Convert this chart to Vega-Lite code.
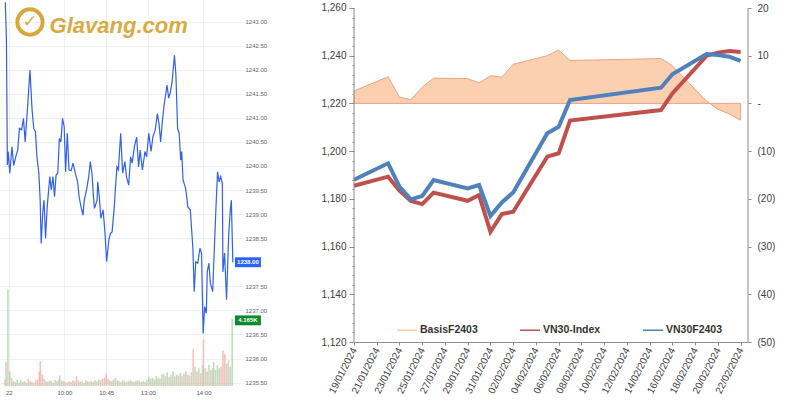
{
  "$schema": "https://vega.github.io/schema/vega-lite/v6.json",
  "background": "white",
  "padding": 0,
  "spacing": 53,
  "resolve": {"scale": {"color": "independent"}},
  "config": {"view": {"stroke": null}, "font": "Liberation Sans", "axis": {"labelOverlap": false, "tickCount": 100}},
  "datasets": {
    "price": [
      {"m":11.2,"p":1243.40},{"m":12.4,"p":1242.62},{"m":13.4,"p":1240.02},{"m":14.3,"p":1240.30},{"m":16.0,"p":1239.85},{"m":18.4,"p":1240.40},{"m":20.2,"p":1240.01},{"m":23.0,"p":1240.23},{"m":24.6,"p":1240.33},{"m":26.4,"p":1240.78},{"m":28.8,"p":1240.75},{"m":30.8,"p":1240.99},{"m":32.6,"p":1240.50},{"m":35.0,"p":1241.16},{"m":37.8,"p":1241.99},{"m":40.1,"p":1241.16},{"m":41.9,"p":1240.78},{"m":43.7,"p":1240.71},{"m":45.3,"p":1240.19},{"m":47.4,"p":1239.85},{"m":48.8,"p":1239.29},{"m":49.9,"p":1238.39},{"m":51.5,"p":1239.02},{"m":53.0,"p":1239.29},{"m":54.6,"p":1238.50},{"m":56.4,"p":1239.15},{"m":59.2,"p":1239.78},{"m":60.8,"p":1239.50},{"m":62.6,"p":1239.78},{"m":64.3,"p":1239.36},{"m":66.0,"p":1239.81},{"m":67.8,"p":1239.85},{"m":69.5,"p":1240.57},{"m":71.2,"p":1240.50},{"m":72.9,"p":1240.99},{"m":74.7,"p":1240.82},{"m":76.3,"p":1239.88},{"m":78.1,"p":1240.68},{"m":79.9,"p":1239.92},{"m":82.2,"p":1239.90},{"m":84.3,"p":1240.06},{"m":86.7,"p":1239.85},{"m":89.2,"p":1239.67},{"m":90.8,"p":1239.36},{"m":92.9,"p":1239.15},{"m":95.0,"p":1238.98},{"m":96.4,"p":1239.29},{"m":98.8,"p":1239.50},{"m":101.2,"p":1239.78},{"m":102.9,"p":1240.09},{"m":104.7,"p":1239.85},{"m":106.3,"p":1239.36},{"m":107.4,"p":1239.12},{"m":110.2,"p":1239.29},{"m":110.9,"p":1239.67},{"m":112.6,"p":1239.36},{"m":114.3,"p":1238.91},{"m":116.7,"p":1239.09},{"m":118.8,"p":1238.60},{"m":120.5,"p":1238.01},{"m":122.9,"p":1238.46},{"m":124.7,"p":1238.60},{"m":126.4,"p":1238.63},{"m":128.8,"p":1239.15},{"m":129.8,"p":1239.47},{"m":131.6,"p":1239.98},{"m":133.2,"p":1239.92},{"m":135.7,"p":1240.68},{"m":137.8,"p":1239.85},{"m":140.2,"p":1240.09},{"m":141.9,"p":1239.78},{"m":144.3,"p":1239.60},{"m":146.4,"p":1240.19},{"m":148.1,"p":1240.06},{"m":150.5,"p":1240.40},{"m":152.9,"p":1240.60},{"m":155.0,"p":1239.98},{"m":156.7,"p":1240.33},{"m":159.1,"p":1239.92},{"m":161.9,"p":1240.30},{"m":163.7,"p":1240.19},{"m":166.0,"p":1240.68},{"m":168.4,"p":1240.30},{"m":170.5,"p":1240.61},{"m":173.0,"p":1240.75},{"m":175.3,"p":1241.09},{"m":177.1,"p":1240.87},{"m":178.8,"p":1240.50},{"m":180.5,"p":1240.89},{"m":182.3,"p":1241.23},{"m":183.3,"p":1241.37},{"m":185.7,"p":1241.68},{"m":187.4,"p":1241.41},{"m":189.1,"p":1241.51},{"m":191.2,"p":1241.75},{"m":193.7,"p":1242.30},{"m":195.3,"p":1241.89},{"m":197.1,"p":1240.78},{"m":198.8,"p":1240.68},{"m":200.5,"p":1240.12},{"m":201.5,"p":1240.30},{"m":203.0,"p":1239.71},{"m":205.7,"p":1239.54},{"m":207.4,"p":1239.29},{"m":208.1,"p":1239.15},{"m":210.8,"p":1239.09},{"m":213.6,"p":1238.29},{"m":215.0,"p":1237.39},{"m":216.7,"p":1238.01},{"m":218.8,"p":1237.98},{"m":221.2,"p":1238.29},{"m":222.9,"p":1238.19},{"m":224.7,"p":1236.52},{"m":226.3,"p":1237.08},{"m":228.1,"p":1236.94},{"m":229.1,"p":1237.80},{"m":230.9,"p":1237.98},{"m":232.5,"p":1237.56},{"m":235.0,"p":1237.39},{"m":236.0,"p":1237.91},{"m":237.4,"p":1238.60},{"m":238.4,"p":1239.09},{"m":240.2,"p":1239.88},{"m":241.9,"p":1239.67},{"m":243.6,"p":1239.78},{"m":245.4,"p":1239.64},{"m":246.0,"p":1237.80},{"m":247.8,"p":1238.19},{"m":249.9,"p":1237.22},{"m":252.3,"p":1238.60},{"m":254.0,"p":1239.09},{"m":255.1,"p":1239.29},{"m":256.7,"p":1238.00}
    ],
    "vol": [
      {"m":11,"v":400,"d":"d"},{"m":12,"v":1500,"d":"d"},{"m":14,"v":6000,"d":"u"},{"m":16,"v":900,"d":"u"},{"m":18,"v":500,"d":"d"},{"m":20,"v":300,"d":"u"},{"m":22,"v":250,"d":"d"},{"m":24,"v":400,"d":"u"},{"m":26,"v":200,"d":"d"},{"m":28,"v":350,"d":"u"},{"m":30,"v":250,"d":"u"},{"m":32,"v":300,"d":"d"},{"m":34,"v":200,"d":"u"},{"m":36,"v":450,"d":"d"},{"m":38,"v":300,"d":"d"},{"m":40,"v":250,"d":"u"},{"m":42,"v":200,"d":"u"},{"m":44,"v":350,"d":"d"},{"m":46,"v":400,"d":"d"},{"m":48,"v":900,"d":"d"},{"m":49,"v":1550,"d":"d"},{"m":51,"v":700,"d":"d"},{"m":53,"v":450,"d":"u"},{"m":55,"v":300,"d":"d"},{"m":57,"v":250,"d":"u"},{"m":59,"v":350,"d":"d"},{"m":61,"v":300,"d":"u"},{"m":63,"v":200,"d":"d"},{"m":65,"v":350,"d":"u"},{"m":67,"v":300,"d":"d"},{"m":69,"v":400,"d":"u"},{"m":70,"v":650,"d":"u"},{"m":72,"v":350,"d":"d"},{"m":74,"v":300,"d":"u"},{"m":76,"v":250,"d":"d"},{"m":78,"v":200,"d":"u"},{"m":80,"v":300,"d":"d"},{"m":82,"v":250,"d":"u"},{"m":84,"v":350,"d":"d"},{"m":86,"v":300,"d":"d"},{"m":88,"v":600,"d":"d"},{"m":90,"v":350,"d":"u"},{"m":92,"v":250,"d":"d"},{"m":94,"v":300,"d":"u"},{"m":96,"v":200,"d":"d"},{"m":98,"v":350,"d":"u"},{"m":100,"v":300,"d":"d"},{"m":102,"v":250,"d":"u"},{"m":104,"v":300,"d":"d"},{"m":106,"v":250,"d":"u"},{"m":108,"v":350,"d":"d"},{"m":110,"v":300,"d":"u"},{"m":112,"v":400,"d":"d"},{"m":114,"v":350,"d":"d"},{"m":116,"v":450,"d":"u"},{"m":118,"v":500,"d":"d"},{"m":120,"v":800,"d":"d"},{"m":122,"v":450,"d":"d"},{"m":124,"v":350,"d":"u"},{"m":126,"v":300,"d":"u"},{"m":128,"v":400,"d":"d"},{"m":130,"v":500,"d":"u"},{"m":132,"v":350,"d":"u"},{"m":134,"v":300,"d":"d"},{"m":136,"v":250,"d":"u"},{"m":138,"v":350,"d":"u"},{"m":140,"v":300,"d":"d"},{"m":142,"v":250,"d":"u"},{"m":144,"v":300,"d":"d"},{"m":146,"v":350,"d":"u"},{"m":148,"v":300,"d":"u"},{"m":150,"v":250,"d":"d"},{"m":152,"v":300,"d":"u"},{"m":154,"v":350,"d":"d"},{"m":156,"v":300,"d":"u"},{"m":158,"v":250,"d":"d"},{"m":160,"v":300,"d":"u"},{"m":162,"v":250,"d":"d"},{"m":164,"v":400,"d":"u"},{"m":166,"v":550,"d":"u"},{"m":168,"v":450,"d":"d"},{"m":170,"v":500,"d":"u"},{"m":172,"v":400,"d":"d"},{"m":174,"v":600,"d":"u"},{"m":176,"v":500,"d":"u"},{"m":178,"v":450,"d":"d"},{"m":180,"v":700,"d":"u"},{"m":182,"v":750,"d":"u"},{"m":184,"v":600,"d":"d"},{"m":186,"v":850,"d":"u"},{"m":188,"v":550,"d":"u"},{"m":190,"v":700,"d":"d"},{"m":192,"v":900,"d":"u"},{"m":194,"v":600,"d":"u"},{"m":196,"v":700,"d":"d"},{"m":198,"v":650,"d":"u"},{"m":200,"v":800,"d":"u"},{"m":202,"v":600,"d":"d"},{"m":204,"v":750,"d":"u"},{"m":206,"v":900,"d":"d"},{"m":208,"v":700,"d":"u"},{"m":210,"v":650,"d":"d"},{"m":212,"v":850,"d":"u"},{"m":214,"v":2300,"d":"d"},{"m":216,"v":1200,"d":"u"},{"m":218,"v":900,"d":"d"},{"m":220,"v":1100,"d":"u"},{"m":222,"v":800,"d":"d"},{"m":224,"v":1300,"d":"u"},{"m":225,"v":2900,"d":"d"},{"m":227,"v":1100,"d":"u"},{"m":229,"v":900,"d":"d"},{"m":231,"v":1300,"d":"u"},{"m":233,"v":1000,"d":"d"},{"m":235,"v":1100,"d":"u"},{"m":236,"v":1500,"d":"u"},{"m":238,"v":1000,"d":"d"},{"m":240,"v":1300,"d":"u"},{"m":242,"v":1100,"d":"u"},{"m":244,"v":1200,"d":"d"},{"m":246,"v":2200,"d":"d"},{"m":248,"v":2000,"d":"d"},{"m":250,"v":1400,"d":"u"},{"m":252,"v":1600,"d":"d"},{"m":254,"v":1200,"d":"u"},{"m":256,"v":4165,"d":"u"}
    ],
    "last": [{"p": 1238.00, "v": 4082, "pl": "1238.00", "vl": "4.165K"}],
    "logo": [{"name": "Glavang.com", "icon": "✓"}],
    "axisline": [{"side": "axis"}],
    "basis": [
      {"date":"2024-01-19","vn30":1185.5,"f2403":1188.0,"basis":2.6},
      {"date":"2024-01-22","vn30":1189.3,"f2403":1194.9,"basis":5.6},
      {"date":"2024-01-23","vn30":1183.4,"f2403":1185.1,"basis":1.3},
      {"date":"2024-01-24","vn30":1179.1,"f2403":1179.8,"basis":0.8},
      {"date":"2024-01-25","vn30":1177.8,"f2403":1181.2,"basis":3.4},
      {"date":"2024-01-26","vn30":1182.6,"f2403":1187.9,"basis":5.3},
      {"date":"2024-01-29","vn30":1179.2,"f2403":1184.4,"basis":5.2},
      {"date":"2024-01-30","vn30":1181.6,"f2403":1185.8,"basis":4.3},
      {"date":"2024-01-31","vn30":1166.2,"f2403":1172.8,"basis":5.8},
      {"date":"2024-02-01","vn30":1173.6,"f2403":1178.5,"basis":5.5},
      {"date":"2024-02-02","vn30":1174.6,"f2403":1182.7,"basis":8.2},
      {"date":"2024-02-05","vn30":1197.7,"f2403":1207.5,"basis":10.0},
      {"date":"2024-02-06","vn30":1199.1,"f2403":1210.2,"basis":11.2},
      {"date":"2024-02-07","vn30":1212.8,"f2403":1221.4,"basis":9.0},
      {"date":"2024-02-15","vn30":1217.2,"f2403":1226.6,"basis":9.4},
      {"date":"2024-02-16","vn30":1224.2,"f2403":1232.2,"basis":7.9},
      {"date":"2024-02-19","vn30":1239.9,"f2403":1240.7,"basis":0.5},
      {"date":"2024-02-20","vn30":1241.3,"f2403":1240.3,"basis":-1.2},
      {"date":"2024-02-21","vn30":1242.0,"f2403":1239.6,"basis":-2.2},
      {"date":"2024-02-22","vn30":1241.6,"f2403":1237.8,"basis":-3.5}
    ]
  },
  "hconcat": [
    {
      "width": 242,
      "height": 386,
      "layer": [
        {
          "layer": [
            {
              "data": {"name": "price"},
              "mark": {"type": "line", "color": "#3060EC", "strokeWidth": 1.2, "clip": true},
              "encoding": {
                "x": {"field": "m", "type": "quantitative",
                  "scale": {"domain": [10.86, 261.2], "nice": false, "zero": false},
                  "axis": {"values": [15, 75, 120, 165, 225], "tickCount": 100,
                    "labelExpr": "datum.value == 15 ? '22' : datum.value == 75 ? '10:00' : datum.value == 120 ? '10:45' : datum.value == 165 ? '13:00' : '14:00'",
                    "domain": false, "ticks": false, "grid": true, "gridColor": "#eef0f5",
                    "labelFontSize": 6, "labelColor": "#555555", "labelPadding": 3, "labelOverlap": false, "title": null}},
                "y": {"field": "p", "type": "quantitative",
                  "scale": {"domain": [1235.43, 1243.447], "nice": false, "zero": false},
                  "axis": {"orient": "right", "tickCount": 100,
                    "values": [1235.5,1236,1236.5,1237,1237.5,1238.5,1239,1239.5,1240,1240.5,1241,1241.5,1242,1242.5,1243],
                    "format": ".2f", "domain": false, "ticks": false, "grid": true, "gridColor": "#eef0f5",
                    "labelFontSize": 6, "labelColor": "#666666", "labelPadding": 3, "labelOverlap": false, "title": null}}
              }
            },
            {
              "data": {"name": "last"},
              "mark": {"type": "point", "shape": "M-1,-0.38H1V0.38H-1Z", "size": 676, "filled": true, "color": "#2962FF", "opacity": 1},
              "encoding": {"x": {"datum": 273}, "y": {"field": "p", "type": "quantitative"}}
            },
            {
              "data": {"name": "last"},
              "mark": {"type": "text", "color": "white", "fontSize": 6, "fontWeight": "bold", "align": "center", "baseline": "middle"},
              "encoding": {"x": {"datum": 273}, "y": {"field": "p", "type": "quantitative"}, "text": {"field": "pl"}}
            },
            {
              "data": {"name": "logo"},
              "mark": {"type": "point", "shape": "circle", "size": 640, "filled": false, "stroke": "#D8A83E", "strokeWidth": 4, "opacity": 1},
              "encoding": {"x": {"datum": 37.8}, "y": {"datum": 1242.99}}
            },
            {
              "data": {"name": "logo"},
              "mark": {"type": "text", "font": "DejaVu Sans", "fontSize": 17, "fontWeight": "bold", "color": "#D8A83E", "align": "center", "baseline": "middle"},
              "encoding": {"x": {"datum": 37.8}, "y": {"datum": 1242.99}, "text": {"field": "icon"}}
            },
            {
              "data": {"name": "logo"},
              "mark": {"type": "text", "fontSize": 22, "fontStyle": "italic", "fontWeight": "bold", "color": "#D9AB42", "align": "left", "baseline": "alphabetic"},
              "encoding": {"x": {"datum": 59}, "y": {"datum": 1242.76}, "text": {"field": "name"}}
            }
          ]
        },
        {
          "layer": [
            {
              "data": {"name": "vol"},
              "mark": {"type": "bar", "width": 1.6, "opacity": 0.8},
              "encoding": {
                "x": {"field": "m", "type": "quantitative"},
                "y": {"field": "v", "type": "quantitative", "scale": {"domain": [0, 24000], "nice": false}, "axis": null},
                "color": {"field": "d", "type": "nominal", "scale": {"domain": ["u", "d"], "range": ["#a6d8ae", "#f4b0ab"]}, "legend": null}
              }
            },
            {
              "data": {"name": "last"},
              "mark": {"type": "point", "shape": "M-1,-0.38H1V0.38H-1Z", "size": 676, "filled": true, "color": "#0E8A2A", "opacity": 1},
              "encoding": {"x": {"datum": 273}, "y": {"field": "v", "type": "quantitative"}}
            },
            {
              "data": {"name": "last"},
              "mark": {"type": "text", "color": "white", "fontSize": 6, "fontWeight": "bold", "align": "center", "baseline": "middle"},
              "encoding": {"x": {"datum": 273}, "y": {"field": "v", "type": "quantitative"}, "text": {"field": "vl"}}
            }
          ]
        }
      ],
      "resolve": {"scale": {"y": "independent"}}
    },
    {
      "width": 394,
      "height": 342,
      "data": {"name": "basis"},
      "layer": [
        {
          "layer": [
            {
              "mark": {"type": "area", "stroke": "#E8A585", "strokeWidth": 1, "opacity": 1, "fillOpacity": 1},
              "encoding": {
                "x": {"field": "date", "type": "temporal",
                  "scale": {"type": "utc", "domain": [1705622400000, 1708616160000], "nice": false},
                  "axis": {"values": [1705622400000,1705795200000,1705968000000,1706140800000,1706313600000,1706486400000,1706659200000,1706832000000,1707004800000,1707177600000,1707350400000,1707523200000,1707696000000,1707868800000,1708041600000,1708214400000,1708387200000,1708560000000],
                    "tickCount": 100,
                    "format": "%d/%m/%Y", "labelAngle": -63, "labelAlign": "right", "labelBaseline": "middle",
                    "labelFontSize": 10, "labelColor": "#404040", "labelPadding": 3, "labelOverlap": false, "labelBound": false, "labelFlush": false,
                    "tickSize": 3, "tickColor": "#8c8c8c", "domainColor": "#8c8c8c", "grid": false, "title": null}},
                "y": {"field": "basis", "type": "quantitative",
                  "scale": {"domain": [-50, 21.677], "nice": false, "zero": false},
                  "axis": {"orient": "right", "values": [-50,-40,-30,-20,-10,0,10,20], "tickCount": 100,
                    "labelExpr": "datum.value === 0 ? '-' : (datum.value < 0 ? '(' + (-datum.value) + ')' : '' + datum.value)",
                    "labelFontSize": 10, "labelColor": "#404040", "labelPadding": 6, "tickSize": 3, "labelOverlap": false,
                    "tickColor": "#8c8c8c", "domain": false, "grid": false, "title": null}},
                "y2": {"datum": 0},
                "color": {"datum": "BasisF2403", "type": "nominal",
                  "scale": {"domain": ["BasisF2403", "VN30-Index", "VN30F2403"], "range": ["#FBCFAF", "#C0504D", "#4F81BD"]},
                  "legend": {"title": null, "orient": "none", "direction": "horizontal", "legendX": 42, "legendY": 319,
                    "labelFontSize": 10.5, "labelFontWeight": "bold", "labelColor": "#333333", "labelOffset": 2,
                    "columnPadding": 39, "symbolSize": 400, "symbolType": "stroke", "padding": 0,
                    "encode": {"symbols": {"update": {
                      "fill": {"value": "transparent"},
                      "stroke": {"signal": "datum.value === 'BasisF2403' ? '#F9C9A5' : (datum.value === 'VN30-Index' ? '#C0504D' : '#4F81BD')"},
                      "strokeWidth": {"signal": "datum.value === 'BasisF2403' ? 7 : 4"},
                      "opacity": {"value": 1}, "strokeOpacity": {"value": 1}
                    }}}}}
              }
            },
            {
              "data": {"name": "axisline"},
              "mark": {"type": "rule", "color": "#8c8c8c", "strokeWidth": 1},
              "encoding": {
                "x": {"datum": {"year": 2024, "month": 2, "date": 22, "hours": 15, "minutes": 36, "utc": true}, "type": "temporal"},
                "y": {"datum": -50},
                "y2": {"datum": 20}
              }
            }
          ]
        },
        {
          "layer": [
            {
              "mark": {"type": "line", "strokeWidth": 4},
              "encoding": {
                "x": {"field": "date", "type": "temporal"},
                "y": {"field": "vn30", "type": "quantitative",
                  "scale": {"domain": [1120, 1263.353], "nice": false, "zero": false},
                  "axis": {"orient": "left", "tickCount": 100,
                    "values": [1120,1124,1128,1132,1136,1140,1144,1148,1152,1156,1160,1164,1168,1172,1176,1180,1184,1188,1192,1196,1200,1204,1208,1212,1216,1220,1224,1228,1232,1236,1240,1244,1248,1252,1256,1260],
                    "labelExpr": "datum.value % 20 === 0 ? format(datum.value, ',.0f') : ''",
                    "tickSize": {"condition": {"test": "datum.value % 20 === 0", "value": 5}, "value": 2},
                    "labelFontSize": 10, "labelColor": "#404040", "labelPadding": 3, "labelOverlap": false,
                    "tickColor": "#8c8c8c", "domain": false, "grid": false, "title": null}},
                "color": {"datum": "VN30-Index", "type": "nominal"}
              }
            },
            {
              "mark": {"type": "line", "strokeWidth": 4},
              "encoding": {
                "x": {"field": "date", "type": "temporal"},
                "y": {"field": "f2403", "type": "quantitative"},
                "color": {"datum": "VN30F2403", "type": "nominal"}
              }
            },
            {
              "data": {"name": "axisline"},
              "mark": {"type": "rule", "color": "#8c8c8c", "strokeWidth": 1},
              "encoding": {
                "x": {"datum": {"year": 2024, "month": 1, "date": 19, "utc": true}, "type": "temporal"},
                "y": {"datum": 1120},
                "y2": {"datum": 1260}
              }
            }
          ]
        }
      ],
      "resolve": {"scale": {"y": "independent"}}
    }
  ]
}
